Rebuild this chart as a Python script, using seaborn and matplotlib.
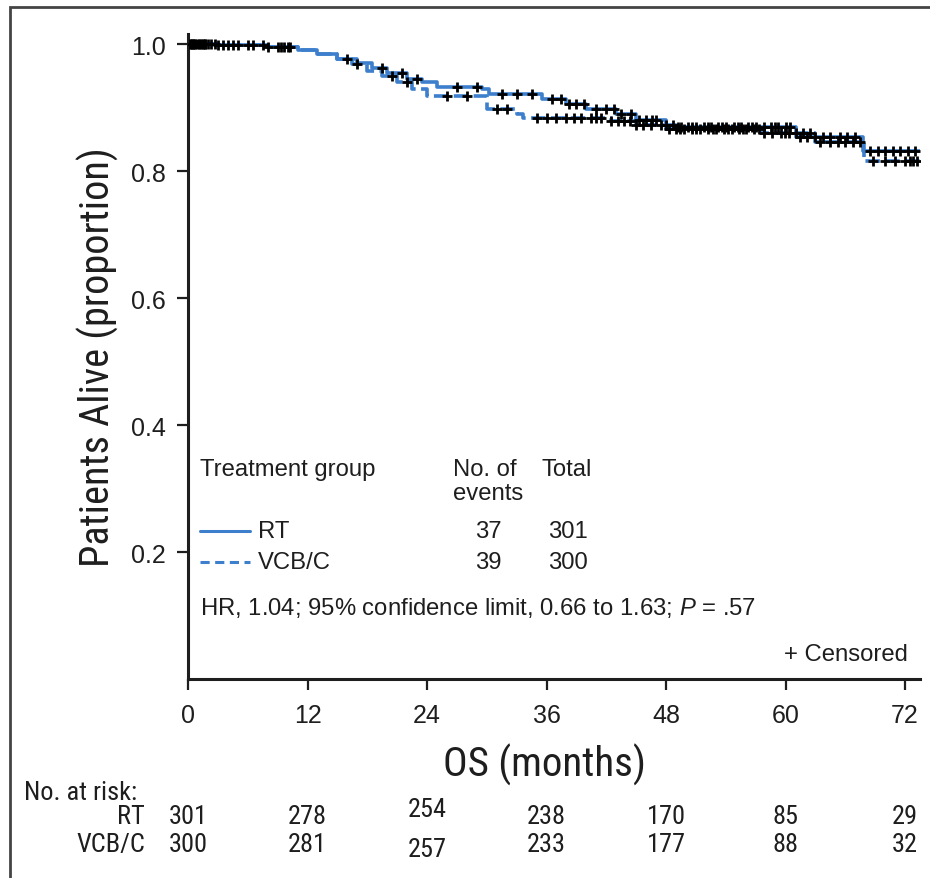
import numpy as np
import pandas as pd
import matplotlib
matplotlib.use("Agg")
import matplotlib.pyplot as plt
import matplotlib.transforms as mtrans
from matplotlib.patches import Rectangle
from matplotlib.lines import Line2D
import seaborn as sns

# ---------------- data ----------------
rt_time = [0, 3, 8, 11, 13, 15, 17, 18.5, 20, 22, 23.5, 25, 29.5, 30.2, 35.5, 38, 40, 43, 45, 48, 49, 61, 67.8, 73.5]
rt_surv = [1.0, .998, .995, .991, .985, .976, .970, .962, .955, .945, .940, .933, .929, .921, .913, .905, .898, .890, .880, .872, .869, .854, .831, .831]

vcb_time = [0, 3, 8, 11, 13, 15, 16.5, 18, 19.5, 21, 22.5, 24, 30, 33, 33.6, 42.5, 45, 48, 57.5, 63, 67.9, 73.5]
vcb_surv = [1.0, .998, .995, .991, .985, .977, .968, .958, .950, .940, .930, .918, .898, .890, .883, .879, .873, .866, .860, .846, .816, .816]

rt_censor = [0.2, 0.4, 0.6, 0.9, 1.2, 1.4, 1.7, 2.0, 2.7, 3.5, 4.5, 6.0, 7.5, 9.0, 9.6, 10.2, 16.0, 19.5, 21.5, 23.0,
             27.0, 29.0, 31.5, 33.0, 34.5, 36.5, 37.5, 38.3, 39.0, 39.8, 41.0, 42.0, 42.8, 43.5, 44.5, 45.3, 46.0,
             46.6, 47.0, 48.0, 48.7, 49.2, 49.5, 50.2, 50.6, 51.0, 51.8, 52.2, 52.5, 53.2, 53.6, 54.0, 54.8, 55.2,
             55.5, 56.2, 56.6, 57.0, 57.8, 58.5, 58.9, 59.2, 60.0, 60.4, 61.5, 62.2, 63.0, 63.8, 64.5, 65.5, 66.2,
             67.0, 68.5, 69.3, 70.0, 70.8, 71.5, 72.3, 73.0]
vcb_censor = [0.3, 0.5, 0.7, 1.1, 1.5, 1.7, 2.3, 3.0, 4.0, 5.0, 6.5, 8.0, 9.3, 10.0, 17.0, 20.5, 22.0, 26.0,
              28.0, 31.0, 32.0, 35.0, 36.0, 37.0, 38.0, 38.8, 39.5, 40.5, 41.0, 41.5, 42.5, 43.2, 43.8, 44.4, 45.0,
              45.7, 46.5, 47.5, 48.3, 49.0, 49.4, 49.8, 50.6, 51.0, 51.4, 52.2, 52.7, 53.0, 53.8, 54.2, 54.6, 55.3,
              55.7, 56.0, 56.8, 57.3, 57.8, 58.6, 59.5, 59.9, 60.3, 61.0, 61.8, 62.5, 63.5, 64.5, 65.3, 66.0,
              66.8, 67.5, 68.8, 70.0, 71.0, 72.0, 72.5, 72.8, 73.2]

groups = ["RT", "VCB/C"]
events = [37, 39]
totals = [301, 300]

risk_times = [0, 12, 24, 36, 48, 60, 72]
risk_rt = [301, 278, 254, 238, 170, 85, 29]
risk_vcb = [300, 281, 257, 233, 177, 88, 32]

x_ticks = [0, 12, 24, 36, 48, 60, 72]
y_ticks = [0.2, 0.4, 0.6, 0.8, 1.0]

hr_text = "HR, 1.04; 95% confidence limit, 0.66 to 1.63; $\\it{P}$ = .57"

# ---------------- styling ----------------
sns.set_theme(style="white")
plt.rcParams["font.family"] = ["Liberation Sans", "DejaVu Sans"]
plt.rcParams["mathtext.fontset"] = "custom"
plt.rcParams["mathtext.it"] = "Liberation Sans:italic"
NARROW = ["Roboto Condensed", "Liberation Sans", "DejaVu Sans"]
BLUE = "#3d7fcc"
TC = "#1e1e1e"

W, H = 930, 879
fig = plt.figure(figsize=(W / 100, H / 100), dpi=100)


def fx(x):
    return x / W


def fy(y):
    return 1 - y / H


ax = fig.add_axes([fx(188), fy(680), (920 - 188) / W, (680 - 35) / H])
ax.set_facecolor("white")


def step_lookup(times, surv, c):
    idx = np.searchsorted(np.asarray(times), np.asarray(c), side="right") - 1
    return np.asarray(surv)[idx]


df_rt = pd.DataFrame({"time": rt_time, "surv": rt_surv})
df_vcb = pd.DataFrame({"time": vcb_time, "surv": vcb_surv})

sns.lineplot(data=df_rt, x="time", y="surv", ax=ax, color=BLUE, lw=2.6,
             drawstyle="steps-post", estimator=None, sort=False)
sns.lineplot(data=df_vcb, x="time", y="surv", ax=ax, color=BLUE, lw=2.6,
             drawstyle="steps-post", estimator=None, sort=False, linestyle=(0, (4, 1.5)))

cen = pd.DataFrame({
    "time": rt_censor + vcb_censor,
    "surv": list(step_lookup(rt_time, rt_surv, rt_censor)) + list(step_lookup(vcb_time, vcb_surv, vcb_censor)),
})
sns.scatterplot(data=cen, x="time", y="surv", ax=ax, marker="+", color="black",
                s=55, linewidth=2.0, zorder=5)

ax.set_xlim(0, 73.5)
ax.set_ylim(0, 1.016)
ax.set_xticks(x_ticks)
ax.set_xticklabels([str(v) for v in x_ticks])
ax.set_yticks(y_ticks)
ax.set_yticklabels([f"{v:.1f}" for v in y_ticks])
ax.set_xlabel("")
ax.set_ylabel("")
for s in ["top", "right"]:
    ax.spines[s].set_visible(False)
for s in ["left", "bottom"]:
    ax.spines[s].set_color(TC)
    ax.spines[s].set_linewidth(2.2)
ax.tick_params(axis="both", direction="out", length=8, width=1.6, color=TC,
               labelsize=18, labelcolor=TC, bottom=True, left=True)
ax.tick_params(axis="x", pad=9)
ax.tick_params(axis="y", pad=8)

# axis titles
fig.text(fx(98), fy(357), "Patients Alive (proportion)", rotation=90, ha="center", va="center",
         fontsize=29, family=NARROW, color=TC)
fig.text(fx(544), fy(765), "OS (months)", ha="center", va="center",
         fontsize=29.5, family=NARROW, color=TC)

# legend block
fs = 17.2
fig.text(fx(200), fy(470), "Treatment group", ha="left", va="center", fontsize=fs, color=TC)
fig.text(fx(453), fy(470), "No. of", ha="left", va="center", fontsize=fs, color=TC)
fig.text(fx(453), fy(494), "events", ha="left", va="center", fontsize=fs, color=TC)
fig.text(fx(541), fy(470), "Total", ha="left", va="center", fontsize=fs, color=TC)
row_y = [532, 563]
styles = ["-", (0, (3, 1.8))]
for g, ev, tot, ry, ls in zip(groups, events, totals, row_y, styles):
    fig.add_artist(Line2D([fx(200), fx(250)], [fy(ry), fy(ry)], color=BLUE, lw=2.2, linestyle=ls))
    fig.text(fx(258), fy(ry), g, ha="left", va="center", fontsize=fs, color=TC)
    fig.text(fx(488), fy(ry), str(ev), ha="center", va="center", fontsize=fs, color=TC)
    fig.text(fx(568), fy(ry), str(tot), ha="center", va="center", fontsize=fs, color=TC)
fig.text(fx(200), fy(608), hr_text, ha="left", va="center", fontsize=fs, color=TC)
fig.text(fx(908), fy(655), "+ Censored", ha="right", va="center", fontsize=fs, color=TC)

# number at risk table
trans = mtrans.blended_transform_factory(ax.transData, fig.transFigure)
fig.text(fx(24), fy(793), "No. at risk:", ha="left", va="center", fontsize=19, family=NARROW, color=TC)
fig.text(fx(145), fy(817), "RT", ha="right", va="center", fontsize=19, family=NARROW, color=TC)
fig.text(fx(145), fy(845), "VCB/C", ha="right", va="center", fontsize=19, family=NARROW, color=TC)
for t, a, b in zip(risk_times, risk_rt, risk_vcb):
    ya = 810 if t == 24 else 817
    yb = 850 if t == 24 else 845
    ax.text(t, fy(ya), str(a), transform=trans, ha="center", va="center", fontsize=19,
            family=NARROW, color=TC)
    ax.text(t, fy(yb), str(b), transform=trans, ha="center", va="center", fontsize=19,
            family=NARROW, color=TC)

# outer frame
fig.add_artist(Rectangle((fx(10), -0.05), 1.2, fy(8) + 0.05, fill=False,
                         edgecolor="#444444", lw=2, transform=fig.transFigure, clip_on=False))

fig.savefig("out.png", dpi=100, facecolor="white")
